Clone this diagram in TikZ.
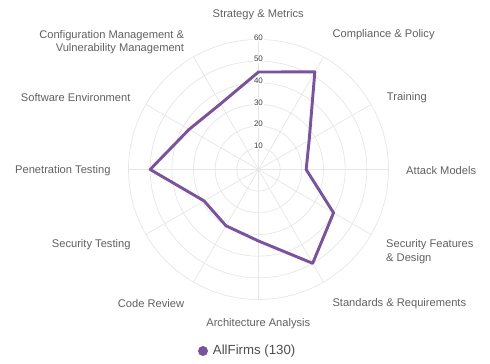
\documentclass[tikz,border=0pt]{standalone}
\usepackage{fontspec}
\setmainfont{Liberation Sans}
\usepackage{xcolor}
\usepackage{tikz}
\usetikzlibrary{positioning,calc}

\definecolor{firmpurple}{RGB}{123,82,160}
\definecolor{gridgray}{RGB}{230,230,230}
\definecolor{labelgray}{RGB}{96,96,96}

\begin{document}
\begin{tikzpicture}[x=0.03cm, y=0.03cm,
    axislabel/.style={text=labelgray, font=\fontsize{9.5}{11.3}\selectfont, inner sep=0pt},
    ticklabel/.style={text=black!75, font=\fontsize{6.8}{7}\selectfont, fill=white, inner sep=0.5pt},
    ring/.style={draw=gridgray, line width=0.6pt},
    firmline/.style={draw=firmpurple, line width=2.5pt, line join=round}]

    \useasboundingbox (0,0) rectangle (490,364);
    \coordinate (c) at (258.5,194.5);

    % Grid rings and spokes
    \foreach \r in {1,...,6}
        \draw[ring] (c) circle ({\r*21.667});
    \foreach \a in {0,30,...,330}
        \draw[ring] (c) -- ++(\a:130);

    % Scale ticks
    \foreach \v in {10,20,...,60}
        \node[ticklabel] (t\v) at ($(c)+(0,{\v*2.1667+2})$) {\v};

    % Axis labels
    \node[axislabel] (strat) at (258.2,349) {Strategy \& Metrics};
    \node[axislabel, anchor=west] (comp) at (332.3,329) {Compliance \& Policy};
    \node[axislabel, anchor=west] (train) at (386.7,266.7) {Training};
    \node[axislabel, anchor=west] (attack) at (406,193.3) {Attack Models};
    \node[axislabel, anchor=west, align=left] (sfd) at (386,112.3) {Security Features\\\& Design};
    \node[axislabel, anchor=west] (stdreq) at (332.3,60) {Standards \& Requirements};
    \node[axislabel] (arch) at (258.3,40) {Architecture Analysis};
    \node[axislabel, anchor=east] (code) at (184.3,60) {Code Review};
    \node[axislabel, anchor=east] (sectest) at (130.7,119) {Security Testing};
    \node[axislabel, anchor=east] (pentest) at (110.7,193.3) {Penetration Testing};
    \node[axislabel, anchor=east] (softenv) at (130.7,266.7) {Software Environment};
    \node[axislabel, anchor=east, align=right] (cmvm) at (184.3,321.8) {Configuration Management \&\\Vulnerability Management};

    % AllFirms scores
    \foreach \a/\v [count=\i] in {90/45,60/52,30/27,0/22,-30/40,-60/50,-90/33,-120/30,-150/29,180/50,150/37,120/35}
        \path (c) ++(\a:{\v*2.1667}) coordinate (p\i);
    \draw[firmline] (p1) \foreach \i in {2,...,12}{ -- (p\i)} -- cycle;

    % Legend
    \node[circle, fill=firmpurple, inner sep=0pt, minimum size=10*0.03cm] (legdot) at (203,13) {};
    \node[text=labelgray!80!black, font=\fontsize{11.3}{13}\selectfont, inner sep=0pt, right=4.5*0.03cm of legdot] (legtext) {AllFirms (130)};
\end{tikzpicture}
\end{document}
